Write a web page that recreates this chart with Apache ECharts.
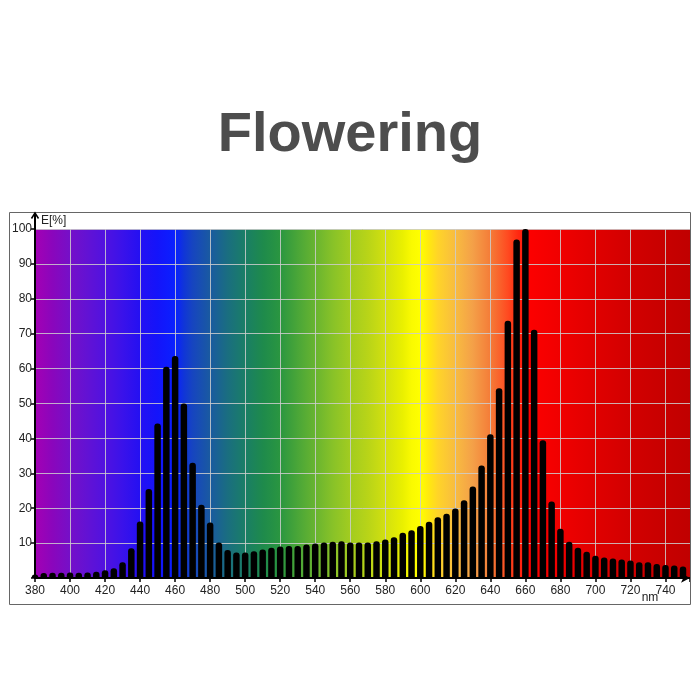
<!DOCTYPE html>
<html>
<head>
<meta charset="utf-8">
<script src="https://cdn.jsdelivr.net/npm/echarts@6/dist/echarts.min.js"></script>
<style>
html,body{margin:0;padding:0;background:#fff;}
#chart{width:700px;height:700px;}
</style>
</head>
<body>
<div id="chart"></div>
<script>
const titleText = 'Flowering';
const xUnit = 'nm';
const yName = 'E[%]';
const wavelengths = [380,385,390,395,400,405,410,415,420,425,430,435,440,445,450,455,460,465,470,475,480,485,490,495,500,505,510,515,520,525,530,535,540,545,550,555,560,565,570,575,580,585,590,595,600,605,610,615,620,625,630,635,640,645,650,655,660,665,670,675,680,685,690,695,700,705,710,715,720,725,730,735,740,745,750];
const intensity = [1.0,1.4,1.5,1.5,1.6,1.5,1.6,1.8,2.2,2.8,4.5,8.5,16.2,25.5,44.3,60.5,63.6,50.0,33.0,21.0,15.9,10.2,8.0,7.3,7.3,7.7,8.2,8.7,9.0,9.2,9.2,9.6,9.9,10.2,10.4,10.5,10.2,10.2,10.2,10.5,11.0,11.7,13.0,13.7,14.9,16.1,17.4,18.4,19.9,22.3,26.2,32.2,41.2,54.4,73.7,97.0,100,71.1,39.5,21.9,14.1,10.4,8.7,7.5,6.4,5.9,5.6,5.3,5.0,4.5,4.5,4.0,3.7,3.6,3.3];
const xMin = 380, xMax = 754;
const yTickLabels = [10,20,30,40,50,60,70,80,90,100];
const spectrumWl = [380,390,400,410,420,430,440,450,460,465,470,480,490,500,510,520,530,540,550,560,570,580,590,595,600,605,610,620,630,640,650,656,658.5,658.6,680,700,720,754];
const spectrumColors = ['#a400b4','#8a06bc','#7510c8','#6212d4','#5012e0','#3a12ea','#2410f2','#1414fa','#0a20ff','#1035d8','#1645c0','#1a5aa0','#1a6e80','#1a7e66','#1e8a4c','#2a9640','#4aa638','#68b430','#88c228','#a2cc20','#b8d418','#d2e010','#eaf000','#fafa00','#ffff00','#ffe810','#ffd428','#f8bc40','#f4a048','#f47c38','#ff4a20','#ff2810','#ff2010','#ff0000','#f00000','#e00000','#d20000','#c00000'];

const stops = spectrumWl.map((w,i)=>({offset:(w-xMin)/(xMax-xMin), color:spectrumColors[i]}));
const barData = wavelengths.map((w,i)=>[w, intensity[i]]);
const font = 'Liberation Sans, Arial, sans-serif';

const chart = echarts.init(document.getElementById('chart'));
chart.setOption({
  backgroundColor:'#ffffff',
  animation:false,
  title:{
    text:titleText, left:'center', top:103,
    textStyle:{fontFamily:font, fontSize:56, fontWeight:'bold', color:'#4d4d4d'}
  },
  grid:{
    left:35, top:229, right:10, bottom:122, show:true, borderWidth:0,
    backgroundColor:new echarts.graphic.LinearGradient(0,0,1,0,stops)
  },
  xAxis:{
    type:'value', min:xMin, max:xMax, interval:20, z:1,
    axisLine:{show:true, lineStyle:{color:'#000', width:2}, symbol:['none','arrow'], symbolSize:[7,9]},
    axisTick:{show:true, length:4, lineStyle:{color:'#000', width:1.5}},
    axisLabel:{show:true, margin:7, fontFamily:font, fontSize:12, color:'#222',
      formatter:v=> (v%20===0 ? String(v) : '')},
    splitLine:{show:true, lineStyle:{color:'rgba(205,205,205,0.85)', width:1}}
  },
  yAxis:{
    type:'value', min:0, max:100, interval:10, z:1,
    name:yName, nameLocation:'end', nameGap:2,
    nameTextStyle:{align:'left', padding:[0,0,0,6], fontFamily:font, fontSize:12, color:'#222'},
    axisLine:{show:true, lineStyle:{color:'#000', width:2}},
    axisTick:{show:true, length:4, lineStyle:{color:'#000', width:1.5}},
    axisLabel:{show:true, margin:3, fontFamily:font, fontSize:12, color:'#222',
      formatter:v=> (yTickLabels.indexOf(v)>=0 ? String(v) : '')},
    splitLine:{show:true, lineStyle:{color:'rgba(205,205,205,0.85)', width:1}}
  },
  series:[{
    type:'bar', data:barData, barWidth:6.5,
    itemStyle:{color:'#000', borderRadius:[3,3,0,0]},
    z:10
  }],
  graphic:[
    {type:'rect', shape:{x:9.5, y:212.5, width:681, height:392}, style:{fill:null, stroke:'#666', lineWidth:1}, z:100, silent:true},
    {type:'line', shape:{x1:35, y1:229, x2:35, y2:213.5}, style:{stroke:'#000', lineWidth:2}, z:100, silent:true},
    {type:'polyline', shape:{points:[[31.5,218.5],[35,213],[38.5,218.5]]}, style:{stroke:'#000', lineWidth:1.5, fill:null}, z:100, silent:true},
    {type:'text', x:650, y:598, style:{text:xUnit, font:'12px ' + font, fill:'#222', textAlign:'center', textVerticalAlign:'middle'}, z:100, silent:true}
  ]
});
</script>
</body>
</html>
